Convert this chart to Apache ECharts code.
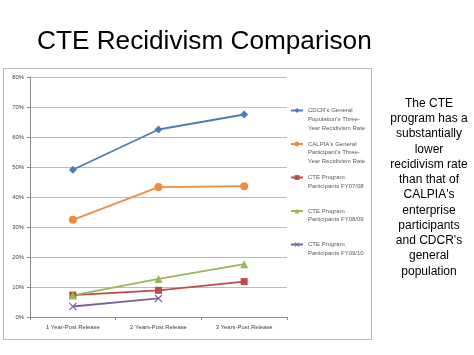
<!DOCTYPE html>
<html><head><meta charset="utf-8">
<script src="https://cdn.jsdelivr.net/npm/echarts@6/dist/echarts.min.js"></script>
<style>html,body{margin:0;padding:0;background:#fff}#c{width:474px;height:355px}</style>
</head><body><div id="c"></div>
<script>
const categories = ['1 Year-Post Release', '2 Years-Post Release', '3 Years-Post Release'];
const seriesNames = [
  "CDCR's General\nPopulation's Three-\nYear Recidivism Rate",
  "CALPIA's General\nParticipant's Three-\nYear Recidivism Rate",
  "CTE Program\nParticipants FY07/08",
  "CTE Program\nParticipants FY08/09",
  "CTE Program\nParticipants FY09/10"
];
const cdcr = [49.1, 62.5, 67.5];
const calpia = [32.4, 43.3, 43.6];
const cte0708 = [7.3, 8.9, 11.8];
const cte0809 = [7.2, 12.7, 17.6];
const cte0910 = [3.5, 6.2, null];
const yTicks = [0, 10, 20, 30, 40, 50, 60, 70, 80];
const titleText = 'CTE Recidivism Comparison';
const noteText = "The CTE\nprogram has a\nsubstantially\nlower\nrecidivism rate\nthan that of\nCALPIA's\nenterprise\nparticipants\nand CDCR's\ngeneral\npopulation";

const colors = ['#4A7EBB', '#F08C3C', '#BE4B48', '#98B954', '#7D60A0'];
const symbols = ['diamond', 'circle', 'rect', 'triangle',
  'path://M0,1L1,0L5,4L9,0L10,1L6,5L10,9L9,10L5,6L1,10L0,9L4,5Z'];
const symSizes = [8, 8, 7, 8, 8];
const dataArr = [cdcr, calpia, cte0708, cte0809, cte0910];
const lineCounts = seriesNames.map(n => n.split('\n').length);
const legendCenters = [110.5, 144, 177.5, 211, 244.5];
const LH = 8.7;

const chart = echarts.init(document.getElementById('c'), null, {renderer: 'canvas'});
const legends = seriesNames.map((name, i) => {
  const n = lineCounts[i];
  const pre = '\n'.repeat(n - 1);
  return {
    data: [name],
    orient: 'vertical',
    left: 290,
    top: legendCenters[i] - (2 * n - 1) * LH / 2,
    padding: 0,
    itemWidth: 12,
    itemHeight: 6,
    itemGap: 2,
    selectedMode: false,
    formatter: nm => pre + nm,
    textStyle: {
      fontFamily: 'Liberation Sans', fontSize: 6, color: '#595959', lineHeight: LH
    }
  };
});

chart.setOption({
  animation: false,
  color: colors,
  title: {
    text: titleText, left: 37, top: 29, padding: 0,
    textStyle: {fontFamily: 'Liberation Sans', fontSize: 26.2, fontWeight: 'normal', color: '#000'}
  },
  graphic: [
    {type: 'rect', shape: {x: 3.5, y: 68.5, width: 368, height: 271},
     style: {fill: 'none', stroke: '#b8b8b8', lineWidth: 1}, silent: true, z: -1},
    {type: 'text', x: 429, y: 96,
     style: {text: noteText, fontFamily: 'Liberation Sans', fontSize: 12, lineHeight: 15.25,
             fill: '#000', align: 'center', verticalAlign: 'top'}}
  ],
  legend: legends,
  grid: {left: 30, right: 187, top: 77, bottom: 38},
  xAxis: {
    type: 'category', data: categories,
    axisLine: {lineStyle: {color: '#8c8c8c'}},
    axisTick: {show: true, length: 3, lineStyle: {color: '#8c8c8c'}},
    axisLabel: {fontFamily: 'Liberation Sans', fontSize: 5.9, color: '#404040', margin: 7}
  },
  yAxis: {
    type: 'value', min: 0, max: 80, interval: 10,
    axisLine: {show: true, lineStyle: {color: '#8c8c8c'}},
    axisTick: {show: true, length: 3, lineStyle: {color: '#8c8c8c'}},
    splitLine: {lineStyle: {color: '#bcbcbc'}},
    axisLabel: {formatter: '{value}%', fontFamily: 'Liberation Sans', fontSize: 5.9, color: '#404040', margin: 6}
  },
  series: seriesNames.map((name, i) => ({
    name: name, type: 'line', data: dataArr[i],
    symbol: symbols[i], symbolSize: symSizes[i], showSymbol: true,
    lineStyle: {width: 1.8, color: colors[i]},
    itemStyle: {color: colors[i]},
    connectNulls: false
  }))
});
</script></body></html>
